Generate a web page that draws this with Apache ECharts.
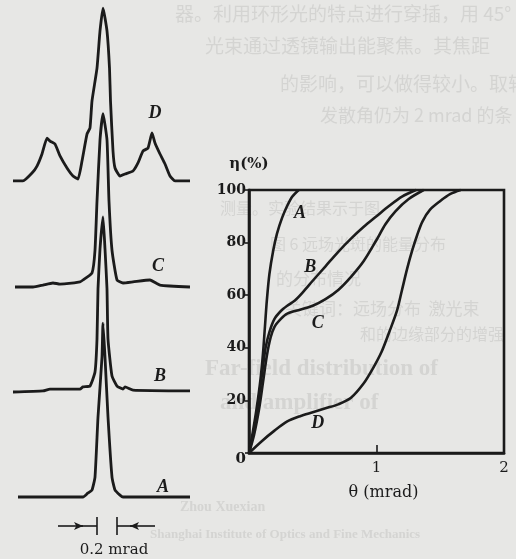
<!DOCTYPE html>
<html><head><meta charset="utf-8">
<script src="https://cdn.jsdelivr.net/npm/echarts/dist/echarts.min.js"></script>
<style>html,body{margin:0;padding:0;background:#e7e7e5;}#c{width:516px;height:559px;}</style>
</head><body><div id="c"></div><script>
// ---------- Left panel: far-field profiles (theta in mrad, intensity in % of peak) ----------
const profThetaA = [-0.85,-0.20,-0.15,-0.11,-0.08,-0.05,-0.01,0,0.02,0.05,0.09,0.12,0.17,0.20,0.87];
const profIA     = [0,0,2.3,4,11.4,45.7,80,99.4,80,45.7,11.4,4,1.1,0,0];
const profThetaB = [-0.90,-0.60,-0.53,-0.23,-0.20,-0.13,-0.08,-0.06,-0.05,-0.03,0,0.02,0.04,0.05,0.09,0.14,0.20,0.22,0.30,0.87];
const profIB     = [0,0.6,1.7,1.7,2.9,3.4,11.4,30.3,58.9,81.7,100,81.7,58.9,30.3,9.1,3.4,1.7,2.9,1.1,0.6];
const profThetaC = [-0.88,-0.70,-0.60,-0.50,-0.43,-0.23,-0.20,-0.11,-0.08,-0.06,-0.03,0,0.04,0.06,0.09,0.14,0.20,0.30,0.47,0.57,0.87];
const profIC     = [0,0,1.1,2.3,1.7,2.9,4,8,21,49,84,99,84,49,21,4,2.3,2.9,4,1.1,0];
const profThetaD = [-0.90,-0.80,-0.71,-0.66,-0.61,-0.56,-0.53,-0.48,-0.43,-0.36,-0.30,-0.25,-0.21,-0.16,-0.13,-0.11,-0.06,-0.03,0,0.04,0.065,0.075,0.10,0.12,0.17,0.22,0.30,0.35,0.40,0.45,0.49,0.52,0.57,0.62,0.67,0.72,0.87];
const profID     = [0.6,0.6,5.1,9.1,16,25.1,23.4,21.7,14.9,8,3.4,1.7,12,27.4,30.9,46.3,65.1,86.3,99.4,86.3,65.1,46.3,17.7,8,3.4,4.6,6.3,10.9,17.7,19.4,28,22.3,16,10.3,3.4,0.6,0.6];
const profileNames = ['A','B','C','D'];

// ---------- Right panel: eta (%) vs theta (mrad) ----------
const thetaA = [0,0.03,0.06,0.09,0.11,0.125,0.14,0.16,0.19,0.22,0.26,0.30,0.34,0.39];
const etaA   = [0,8,17,28,38,48,58,68,77,83.5,89.5,94,97.5,100];
const thetaB = [0,0.04,0.08,0.11,0.13,0.16,0.20,0.25,0.30,0.36,0.42,0.50,0.60,0.70,0.80,0.90,1.00,1.10,1.20,1.31];
const etaB   = [0,9,22,33,40,46,51,54,56,58,61,65.5,71,76.5,81.5,86,90,94,97.5,100];
const thetaC = [0,0.04,0.08,0.11,0.14,0.17,0.20,0.25,0.30,0.40,0.50,0.60,0.70,0.80,0.90,1.00,1.07,1.15,1.25,1.37];
const etaC   = [0,7,17,27,37,44,48,51,53,54.5,56,58.5,62,67,73,81,87,92,96.5,100];
const thetaD = [0,0.10,0.20,0.30,0.40,0.50,0.60,0.70,0.80,0.90,0.97,1.04,1.10,1.16,1.20,1.24,1.28,1.32,1.36,1.42,1.50,1.58,1.66];
const etaD   = [0,4.5,8.5,12,14,15.5,17,18.5,21,26.5,32,38.5,46,54,62,70,77,83,88,92.5,95.8,98.5,100];
const curveNames = ['A','B','C','D'];
const xTicks = [0,1,2];
const yTicks = [0,20,40,60,80,100];

const ink = '#1b1b1b';
const serif = 'DejaVu Serif';
const zip = (a,b)=>a.map((v,i)=>[v,b[i]]);

const profiles = [[profThetaA,profIA],[profThetaB,profIB],[profThetaC,profIC],[profThetaD,profID]];
const profOffset = [0,60,120,180];
const profLabelAt = [[0.60,5.7],[0.57,69],[0.55,132],[0.52,219]];
const curves = [[thetaA,etaA],[thetaB,etaB],[thetaC,etaC],[thetaD,etaD]];
const curveLabelAt = [[0.40,91.3],[0.48,70.7],[0.54,49.4],[0.54,11.4]];

const labelStyle = {fontFamily:'Liberation Serif',fontStyle:'italic',fontWeight:'bold',fontSize:18,color:ink};

const series = [];
profiles.forEach((p,i)=>{
  const s = {
    type:'line', xAxisIndex:0, yAxisIndex:0, name:'prof'+profileNames[i],
    data: zip(p[0], p[1].map(v=>v+profOffset[i])),
    showSymbol:false, smooth:0.15, lineStyle:{color:ink,width:2.8}, clip:false,
    markPoint:{symbol:'circle',symbolSize:0,silent:true,
      label:{show:true,position:'inside',formatter:profileNames[i],...labelStyle},
      data:[{coord:profLabelAt[i]}]}
  };
  if(i===0){
    const y=-16.6;
    s.markLine={silent:true,symbol:['none','none'],lineStyle:{color:ink,width:1.6,type:'solid'},label:{show:false},
      data:[
        [{coord:[-0.45,y]},{coord:[-0.20,y],symbol:'arrow',symbolSize:[6,9]}],
        [{coord:[-0.22,y]},{coord:[-0.06,y]}],
        [{coord:[0.52,y]},{coord:[0.27,y],symbol:'arrow',symbolSize:[6,9]}],
        [{coord:[0.29,y]},{coord:[0.14,y]}],
        [{coord:[-0.06,-11.4]},{coord:[-0.06,-21.7]}],
        [{coord:[0.14,-11.4]},{coord:[0.14,-21.7]}]
      ]};
    s.markPoint.data.push({coord:[0.11,-30.3],label:{formatter:'0.2 mrad',fontFamily:serif,fontStyle:'normal',fontWeight:'normal',fontSize:15,color:ink}});
  }
  series.push(s);
});
curves.forEach((c,i)=>{
  series.push({
    type:'line', xAxisIndex:1, yAxisIndex:1, name:'eta'+curveNames[i],
    data: zip(c[0],c[1]), showSymbol:false, smooth:0.3,
    lineStyle:{color:ink,width:2.6}, clip:false,
    markPoint:{symbol:'circle',symbolSize:0,silent:true,
      label:{show:true,position:'inside',formatter:curveNames[i],...labelStyle},
      data:[{coord:curveLabelAt[i]}]}
  });
});

// faint show-through text of the printed page
const ghost = '#d4d4d2';
const ghostTexts = [
  [175,4,'器。利用环形光的特点进行穿插，用 45°',19,'cjk'],
  [205,36,'光束通过透镜输出能聚焦。其焦距',19,'cjk'],
  [280,74,'的影响，可以做得较小。取轴',19,'cjk'],
  [320,106,'发散角仍为 2 mrad 的条',18,'cjk'],
  [220,200,'测量。实验结果示于图',16,'cjk'],
  [270,236,'图 6 远场光斑的能量分布',16,'cjk'],
  [276,270,'的分布情况',17,'cjk'],
  [285,300,'关键词：远场分布  激光束',17,'cjk'],
  [360,326,'和的边缘部分的增强',16,'cjk'],
  [205,358,'Far-field distribution of',23,'lat'],
  [220,392,'and amplifier of',23,'lat'],
  [180,500,'Zhou Xuexian',14,'lat'],
  [150,528,'Shanghai Institute of Optics and Fine Mechanics',13,'lat']
];
const graphics = ghostTexts.map(t=>({type:'text',left:t[0],top:t[1],z:-10,silent:true,
  style:{text:t[2],fill:ghost,shadowColor:ghost,shadowBlur:4,
    font:(t[4]==='lat'?'bold ':'')+t[3]+'px '+(t[4]==='lat'?'"Liberation Serif"':'"Noto Sans CJK SC"')}}));

const chart = echarts.init(document.getElementById('c'),null,{renderer:'canvas'});
chart.setOption({
  animation:false,
  backgroundColor:'#e7e7e5',
  graphic: graphics,
  grid:[
    {left:0, top:7, width:200, height:551.25, show:false},
    {left:249, top:190, width:255, height:263, show:true, borderColor:ink, borderWidth:2.6, backgroundColor:'transparent'}
  ],
  xAxis:[
    {gridIndex:0,type:'value',min:-1.03,max:0.97,show:false},
    {gridIndex:1,type:'value',min:0,max:2,interval:1,
     axisLine:{show:true,lineStyle:{color:ink,width:2.6}},
     axisTick:{show:true,inside:true,length:8,lineStyle:{color:ink,width:1.6}},
     axisLabel:{margin:8,fontFamily:serif,fontSize:15,color:ink,formatter:v=>v===0?'':String(v)},
     splitLine:{show:false},
     name:'θ (mrad)',nameLocation:'middle',nameGap:32,
     nameTextStyle:{fontFamily:serif,fontSize:16,color:ink,padding:[0,0,0,14]}}
  ],
  yAxis:[
    {gridIndex:0,type:'value',min:-35,max:280,show:false},
    {gridIndex:1,type:'value',min:0,max:100,interval:20,
     axisLine:{show:true,lineStyle:{color:ink,width:2.6}},
     axisTick:{show:true,inside:false,length:4,lineStyle:{color:ink,width:1.6}},
     axisLabel:{margin:3,fontFamily:serif,fontWeight:'bold',fontSize:14,color:ink,
       formatter:v=>v===0?'{z|0}':String(v),
       rich:{z:{fontFamily:serif,fontSize:15,color:ink,padding:[12,0,0,0]}}},
     splitLine:{show:false},
     name:'η(%)',nameLocation:'end',nameGap:18,
     nameTextStyle:{fontFamily:serif,fontWeight:'bold',fontSize:15,color:ink,align:'center'}}
  ],
  series: series
});
</script></body></html>
